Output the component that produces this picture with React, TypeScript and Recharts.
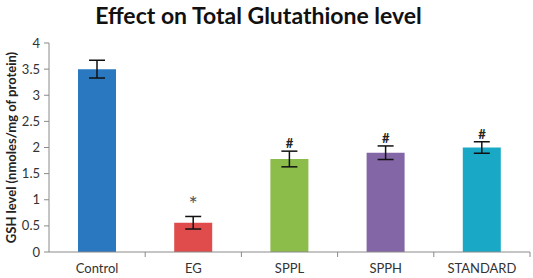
import { ComposedChart, Bar, Cell, XAxis, YAxis, ErrorBar, Scatter, Label } from "recharts";

const groups = ["Control", "EG", "SPPL", "SPPH", "STANDARD"];
const gsh = [3.5, 0.56, 1.78, 1.9, 2.0];
const sem = [0.17, 0.12, 0.15, 0.13, 0.11];
const marks = ["", "*", "#", "#", "#"];
const colors = ["#2a78c0", "#e04b4b", "#8cbc4a", "#8366a6", "#19a9c6"];
const yTicks = [0, 0.5, 1, 1.5, 2, 2.5, 3, 3.5, 4];

const data = groups.map((g, i) => ({
  name: g,
  value: gsh[i],
  err: sem[i],
  markY: gsh[i] + sem[i],
  mark: marks[i],
}));

const font = "Lato, 'Open Sans', sans-serif";
const axisColor = "#8a8a8a";

function XTick(props: any) {
  const { x, y, payload } = props;
  const half = 481 / 5 / 2;
  return (
    <g>
      <line x1={x + half} x2={x + half} y1={y - 8} y2={y - 3} stroke={axisColor} />
      <text x={x} y={y + 13} textAnchor="middle" fontSize={13} fill="#333" fontFamily={font}>
        {payload.value}
      </text>
    </g>
  );
}

function MarkShape(props: any) {
  const { cx, cy, payload } = props;
  if (!payload.mark) return <g />;
  const star = payload.mark === "*";
  return (
    <text
      x={cx}
      y={star ? cy - 4 : cy - 3}
      textAnchor="middle"
      fontSize={star ? 22 : 13}
      fontWeight={star ? 400 : 700}
      fill={star ? "#555" : "#222"}
      fontFamily={font}
    >
      {payload.mark}
    </text>
  );
}

export default function App() {
  return (
    <div style={{ position: "absolute", left: 0, top: 0, width: 533, height: 278, background: "#fff" }}>
      <div
        style={{
          position: "absolute",
          left: 0,
          top: 1,
          width: 517,
          textAlign: "center",
          fontFamily: font,
          fontWeight: 700,
          fontSize: 23,
          lineHeight: "28px",
          color: "#111",
        }}
      >
        Effect on Total Glutathione level
      </div>
      <ComposedChart width={533} height={278} data={data} margin={{ top: 43, right: 3, bottom: 0, left: 0 }}>
        <XAxis
          dataKey="name"
          height={26}
          stroke={axisColor}
          tickLine={false}
          tick={<XTick />}
          interval={0}
        />
        <YAxis
          width={49}
          domain={[0, 4]}
          ticks={yTicks}
          stroke={axisColor}
          tickSize={5}
          tickMargin={4}
          tick={{ fontSize: 13, fill: "#333", fontFamily: font }}
        >
          <Label
            content={(p: any) => {
              const vb = p.viewBox;
              const cx = 11;
              const cy = vb.y + vb.height / 2;
              return (
                <text
                  x={cx}
                  y={cy}
                  transform={`rotate(-90 ${cx} ${cy})`}
                  textAnchor="middle"
                  dominantBaseline="central"
                  fontSize={13}
                  fontWeight={700}
                  fill="#222"
                  fontFamily={font}
                >
                  GSH level (nmoles/mg of protein)
                </text>
              );
            }}
          />
        </YAxis>
        <Bar dataKey="value" barSize={38} isAnimationActive={false}>
          {data.map((d, i) => (
            <Cell key={d.name} fill={colors[i]} />
          ))}
          <ErrorBar dataKey="err" width={8} stroke="#111" strokeWidth={1.5} />
        </Bar>
        <Scatter dataKey="markY" shape={<MarkShape />} isAnimationActive={false} />
      </ComposedChart>
    </div>
  );
}
